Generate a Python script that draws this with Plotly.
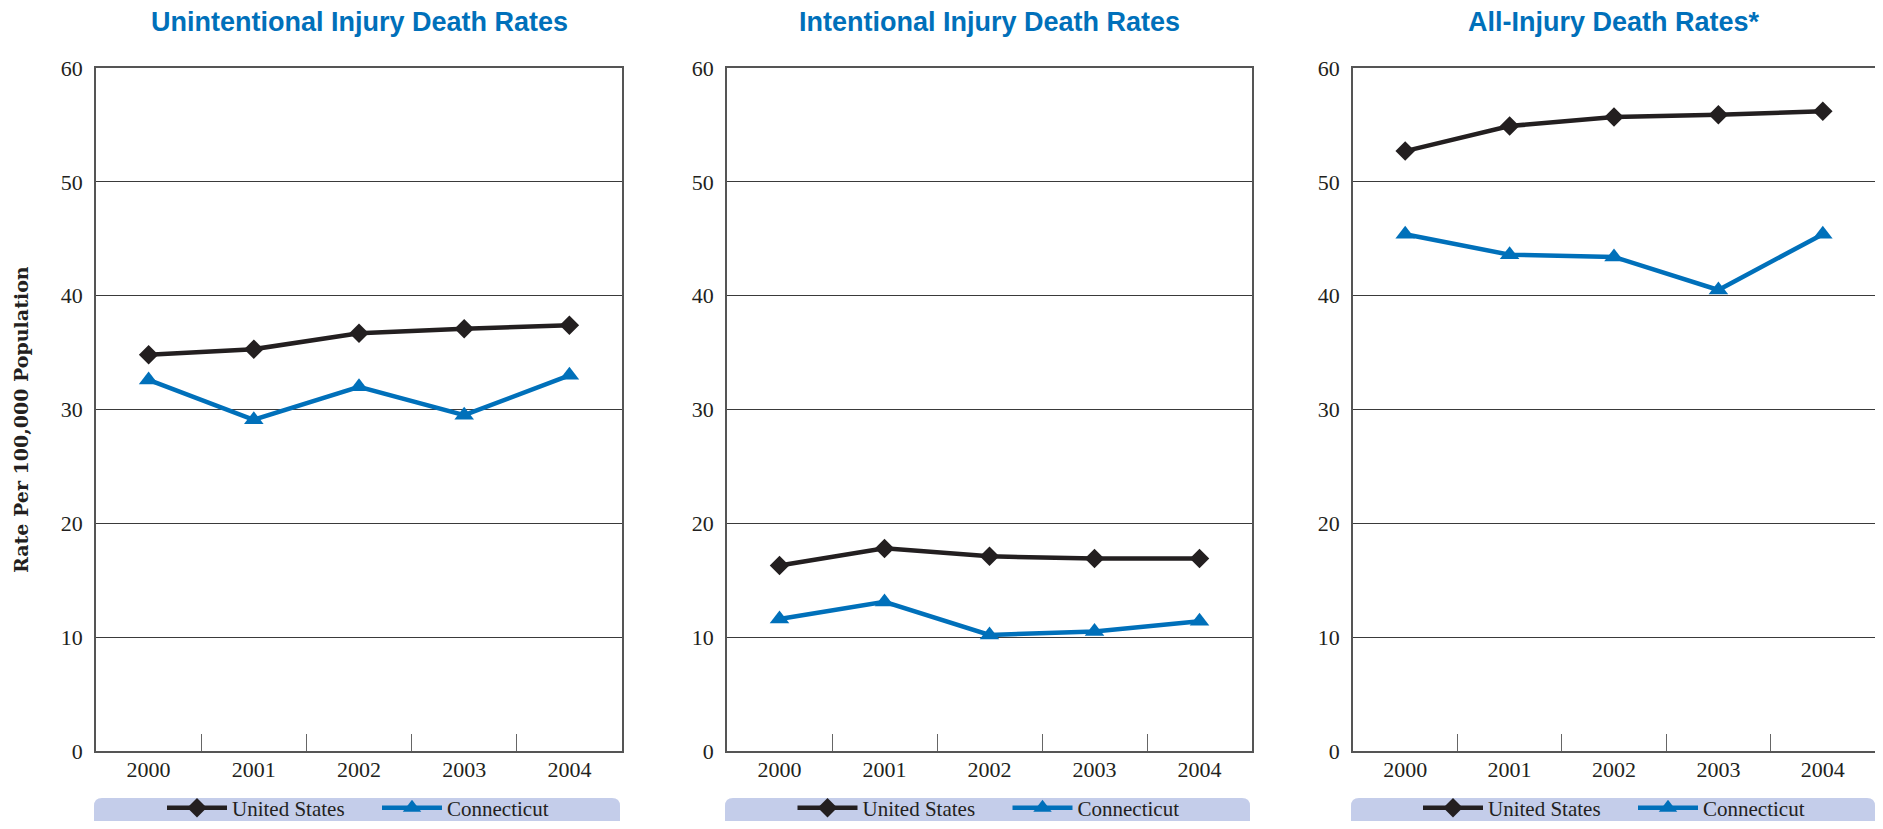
import plotly.graph_objects as go

# the page body keeps an 8px margin, so the figure is 16px smaller than the window
W, H = 1867, 813
OFF = 8

years = ["2000", "2001", "2002", "2003", "2004"]
panel_titles = [
    "Unintentional Injury Death Rates",
    "Intentional Injury Death Rates",
    "All-Injury Death Rates*",
]
us_unintentional = [34.8, 35.3, 36.7, 37.1, 37.4]
ct_unintentional = [32.6, 29.1, 32.0, 29.5, 33.0]
us_intentional = [16.3, 17.8, 17.1, 16.9, 16.9]
ct_intentional = [11.6, 13.1, 10.2, 10.5, 11.4]
us_all = [52.7, 54.9, 55.7, 55.9, 56.2]
ct_all = [45.4, 43.6, 43.4, 40.5, 45.4]
y_ticks = [0, 10, 20, 30, 40, 50, 60]

US_COLOR = "#231F20"
CT_COLOR = "#0070BA"
BAND_COLOR = "#C4CDEA"
SERIF = "Liberation Serif, Times New Roman, serif"


def px_x(p):
    # p is a position on the screen
    return min((p - OFF) / W, 1)


def px_y(p):
    return 1 - (p - OFF) / H


# screen pixel boxes of the three plot areas (left, right)
panels = [(96, 622), (727, 1252), (1353, 1875)]
bands = [(94, 620), (725, 1250), (1351, 1875)]
plot_top, plot_bottom = 68, 751

series = [
    (us_unintentional, ct_unintentional),
    (us_intentional, ct_intentional),
    (us_all, ct_all),
]

fig = go.Figure()
layout = dict(
    width=W,
    height=H,
    margin=dict(l=0, r=0, t=0, b=0, autoexpand=False),
    paper_bgcolor="white",
    plot_bgcolor="white",
    showlegend=True,
    annotations=[],
    shapes=[],
)

for i, ((left, right), (us, ct)) in enumerate(zip(panels, series)):
    n = "" if i == 0 else str(i + 1)
    leg = "legend" + n
    fig.add_trace(
        go.Scatter(
            x=years, y=us, name="United States", mode="lines+markers",
            line=dict(color=US_COLOR, width=4.5),
            marker=dict(symbol="diamond", size=15, color=US_COLOR),
            xaxis="x" + n, yaxis="y" + n, legend=leg,
        )
    )
    fig.add_trace(
        go.Scatter(
            x=years, y=ct, name="Connecticut", mode="lines+markers",
            line=dict(color=CT_COLOR, width=4.5),
            marker=dict(symbol="triangle-up", size=17, color=CT_COLOR),
            xaxis="x" + n, yaxis="y" + n, legend=leg,
        )
    )
    layout["xaxis" + n] = dict(
        domain=[px_x(left), px_x(right)],
        anchor="y" + n,
        type="category",
        range=[-0.5, 4.5],
        ticks="inside",
        tickson="boundaries",
        ticklen=17,
        tickwidth=1.3,
        tickcolor="#666666",
        showline=True,
        linecolor="#555555",
        linewidth=1.5,
        mirror=True,
        showgrid=False,
        automargin=False,
        tickfont=dict(family=SERIF, size=22, color=US_COLOR),
        ticklabelstandoff=-2,
        fixedrange=True,
    )
    layout["yaxis" + n] = dict(
        domain=[px_y(plot_bottom), px_y(plot_top)],
        anchor="x" + n,
        range=[0, 60],
        tickvals=y_ticks,
        showgrid=True,
        gridcolor="#3A3A3A",
        gridwidth=1.2,
        zeroline=False,
        showline=True,
        linecolor="#555555",
        linewidth=1.5,
        mirror=True,
        ticks="",
        automargin=False,
        tickfont=dict(family=SERIF, size=22, color=US_COLOR),
        ticklabelstandoff=7,
        fixedrange=True,
    )
    # panel title
    layout["annotations"].append(
        dict(
            text=panel_titles[i], xref="paper", yref="paper",
            x=px_x((left + right) / 2), y=px_y(22),
            xanchor="center", yanchor="middle", showarrow=False,
            font=dict(family="Liberation Sans, Arial, sans-serif",
                      size=27, color=CT_COLOR, weight="bold"),
        )
    )
    # legend band with rounded top corners
    bl, br = bands[i]
    r = 8
    top, bot = 798, 840
    path = (
        f"M {px_x(bl)},{px_y(bot)} "
        f"L {px_x(bl)},{px_y(top + r)} "
        f"Q {px_x(bl)},{px_y(top)} {px_x(bl + r)},{px_y(top)} "
        f"L {px_x(br - r)},{px_y(top)} "
        f"Q {px_x(br)},{px_y(top)} {px_x(br)},{px_y(top + r)} "
        f"L {px_x(br)},{px_y(bot)} Z"
    )
    layout["shapes"].append(
        dict(type="path", path=path, xref="paper", yref="paper",
             fillcolor=BAND_COLOR, line=dict(width=0), layer="below")
    )
    layout[leg] = dict(
        orientation="h",
        x=px_x((bl + br) / 2 + 20), y=px_y(808),
        xanchor="center", yanchor="middle",
        bgcolor="rgba(0,0,0,0)",
        font=dict(family=SERIF, size=21, color=US_COLOR),
        itemwidth=60,
        entrywidth=140,
        traceorder="normal",
    )

layout["annotations"].append(
    dict(
        text="Rate Per 100,000 Population", xref="paper", yref="paper",
        x=px_x(21), y=px_y(420), textangle=-90,
        xanchor="center", yanchor="middle", showarrow=False,
        font=dict(family="DejaVu Serif, serif", size=19, color=US_COLOR,
                  weight="bold"),
    )
)

fig.update_layout(**layout)
fig.write_html("out.html")
